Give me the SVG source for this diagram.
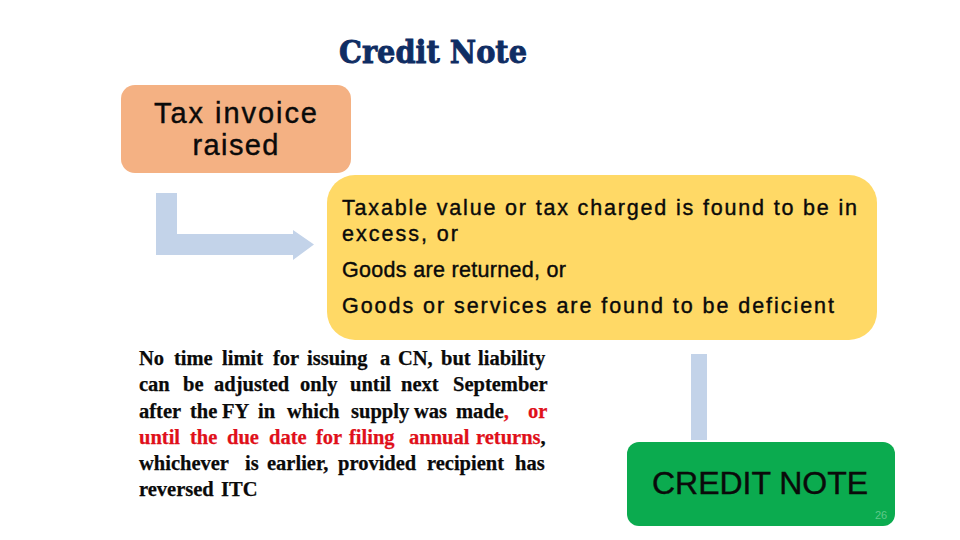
<svg xmlns="http://www.w3.org/2000/svg" width="960" height="540" viewBox="0 0 960 540">
<style>
.s{font-family:"Liberation Sans",Arial,sans-serif;fill:#0a0a0a;stroke:#0a0a0a;stroke-width:.4}
.b{font-family:"Liberation Serif",serif;font-size:20.5px;font-weight:700;fill:#0a0a0a;stroke:#0a0a0a;stroke-width:.25}
.r{fill:#e0101a;stroke:#e0101a}
.c{fill:#c3d3e9}
</style>
<rect width="960" height="540" fill="#fff"/>
<g id="title"><text x="339" y="63" font-family="'DejaVu Serif',serif" font-weight="700" font-size="32" fill="#0f2d63" stroke="#0f2d63" stroke-width=".9" textLength="188" lengthAdjust="spacingAndGlyphs">Credit Note</text></g>
<g id="connectors">
<path class="c" d="M156 193H177V234H293V230L314 244.500L293 260V255H156Z"/>
<rect class="c" x="691" y="354" width="16" height="86"/>
</g>
<g id="invoice">
<rect x="121" y="85" width="230" height="88" rx="14" fill="#f4b183"/>
<text class="s" font-size="29"><tspan x="154" y="123" textLength="163">Tax invoice</tspan><tspan x="192.500" y="155" textLength="86">raised</tspan></text>
</g>
<g id="conditions">
<rect x="327" y="175" width="550" height="165" rx="28" fill="#ffd966"/>
<text class="s" font-size="21.500"><tspan x="342" y="215" textLength="515">Taxable value or tax charged is found to be in</tspan><tspan x="342" y="241" textLength="116">excess, or</tspan><tspan x="342" y="277" textLength="224">Goods are returned, or</tspan><tspan x="342" y="313" textLength="492">Goods or services are found to be deficient</tspan></text>
</g>
<g id="note">
<text class="b" y="365"><tspan x="139">No</tspan> <tspan x="174">time</tspan> <tspan x="222">limit</tspan> <tspan x="273">for</tspan> <tspan x="307">issuing</tspan> <tspan x="380">a</tspan> <tspan x="398">CN,</tspan> <tspan x="441">but</tspan> <tspan x="478">liability</tspan></text>
<text class="b" y="391"><tspan x="139">can</tspan> <tspan x="183">be</tspan> <tspan x="214">adjusted</tspan> <tspan x="300">only</tspan> <tspan x="350">until</tspan> <tspan x="401">next</tspan> <tspan x="453">September</tspan></text>
<text class="b" y="418"><tspan x="139">after</tspan> <tspan x="190">the</tspan> <tspan x="222">FY</tspan> <tspan x="258">in</tspan> <tspan x="287">which</tspan> <tspan x="351">supply</tspan> <tspan x="414">was</tspan> <tspan x="456">made</tspan><tspan class="r">,</tspan> <tspan class="r" x="528">or</tspan></text>
<text class="b" y="444"><tspan class="r" x="139">until</tspan> <tspan class="r" x="190">the</tspan> <tspan class="r" x="227">due</tspan> <tspan class="r" x="269">date</tspan> <tspan class="r" x="316">for</tspan> <tspan class="r" x="349">filing</tspan> <tspan class="r" x="409">annual</tspan> <tspan class="r" x="476">returns</tspan>,</text>
<text class="b" y="470"><tspan x="139">whichever</tspan> <tspan x="245">is</tspan> <tspan x="267">earlier,</tspan> <tspan x="338">provided</tspan> <tspan x="427">recipient</tspan> <tspan x="515">has</tspan></text>
<text class="b" y="496"><tspan x="139">reversed</tspan> <tspan x="221">ITC</tspan></text>
</g>
<g id="credit-note">
<rect x="627" y="442" width="268" height="84" rx="12" fill="#0bab4f"/>
<text class="s" x="652" y="494" font-size="32" textLength="216">CREDIT NOTE</text>
<text x="875" y="519" font-family="'Liberation Sans',sans-serif" font-size="11" fill="#5fc98a">26</text>
</g>
</svg>
